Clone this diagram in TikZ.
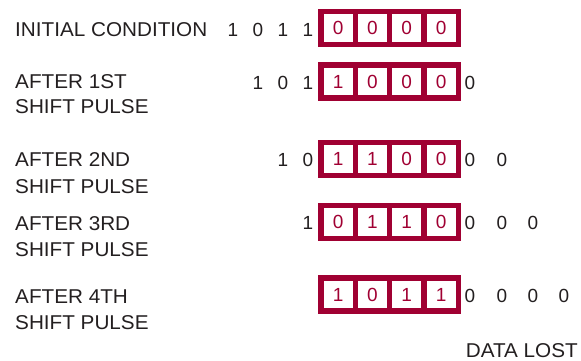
\documentclass[tikz,border=0pt]{standalone}
\usepackage{fontspec}
\setmainfont{Liberation Sans}
\newfontfamily\lblfont{Liberation Sans}[FakeStretch=1.035]
\definecolor{reg}{RGB}{160,0,50}
\definecolor{ink}{RGB}{35,31,32}
\begin{document}
\begin{tikzpicture}[x=1pt,y=-1pt,
  lbl/.style={anchor=base west, inner sep=0pt, font=\lblfont\fontsize{20}{24}\selectfont, text=ink},
  dig/.style={anchor=base, inner sep=0pt, font=\fontsize{19}{23}\selectfont, text=ink},
  cell/.style={draw=reg, line width=5.3pt, minimum width=34.3pt, minimum height=33pt, inner sep=0pt, text=reg, font=\fontsize{19}{23}\selectfont}]
\useasboundingbox (0,0) rectangle (581,360);
% labels
\node[lbl] (l1)  at (15,36)    {INITIAL CONDITION};
\node[lbl] (l2a) at (15,88)    {AFTER 1ST};
\node[lbl] (l2b) at (15,113.5) {SHIFT PULSE};
\node[lbl] (l3a) at (15,166.7) {AFTER 2ND};
\node[lbl] (l3b) at (15,193.3) {SHIFT PULSE};
\node[lbl] (l4a) at (15,230)   {AFTER 3RD};
\node[lbl] (l4b) at (15,256)   {SHIFT PULSE};
\node[lbl] (l5a) at (15,303.3) {AFTER 4TH};
\node[lbl] (l5b) at (15,329.3) {SHIFT PULSE};
\node[lbl, anchor=base east] (lost) at (578,357) {DATA LOST};
% registers
\foreach \r/\y/\cells in {1/28.2/{0,0,0,0}, 2/81.5/{1,0,0,0}, 3/159/{1,1,0,0}, 4/222/{0,1,1,0}, 5/294.5/{1,0,1,1}} {
  \foreach \v [count=\i from 0] in \cells {
    \node[cell] (r\r c\i) at ({338.15+34.3*\i},\y) {\v};
  }
}
% left digits
\node[dig] (a1) at (233,36.3) {1};
\node[dig] (a2) at (258,36.3) {0};
\node[dig] (a3) at (283,36.3) {1};
\node[dig] (a4) at (308,36.3) {1};
\node[dig] (b1) at (258,89.3) {1};
\node[dig] (b2) at (283,89.3) {0};
\node[dig] (b3) at (308,89.3) {1};
\node[dig] (c1) at (283,166.8) {1};
\node[dig] (c2) at (308,166.8) {0};
\node[dig] (d1) at (308,229.8) {1};
% right digits
\node[dig] (b5) at (470,89.3) {0};
\node[dig] (c5) at (470,166.8) {0};
\node[dig] (c6) at (502,166.8) {0};
\node[dig] (d5) at (470,229.8) {0};
\node[dig] (d6) at (502,229.8) {0};
\node[dig] (d7) at (533,229.8) {0};
\node[dig] (e5) at (470,302.3) {0};
\node[dig] (e6) at (502,302.3) {0};
\node[dig] (e7) at (533,302.3) {0};
\node[dig] (e8) at (564,302.3) {0};
\end{tikzpicture}
\end{document}
